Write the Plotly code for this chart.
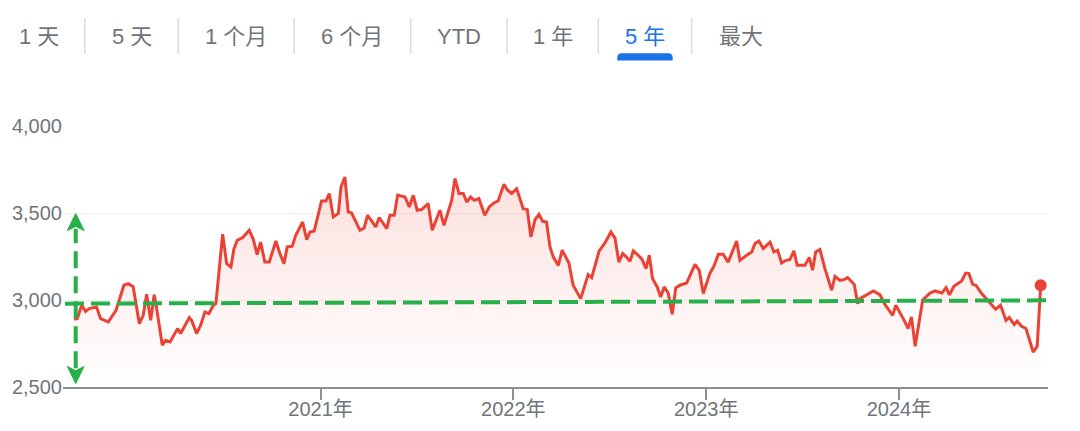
import plotly.graph_objects as go

# ---- data ----
years = [
    2019.721, 2019.738, 2019.761, 2019.781, 2019.800, 2019.838, 2019.859, 2019.899, 2019.939, 2019.980,
    2020.002, 2020.028, 2020.060, 2020.080, 2020.098, 2020.119, 2020.137, 2020.146, 2020.179, 2020.196,
    2020.219, 2020.259, 2020.274, 2020.319, 2020.331, 2020.357, 2020.378, 2020.400, 2020.421, 2020.443,
    2020.457, 2020.473, 2020.492, 2020.513, 2020.535, 2020.551, 2020.568, 2020.596, 2020.630, 2020.651,
    2020.671, 2020.689, 2020.711, 2020.734, 2020.768, 2020.789, 2020.810, 2020.827, 2020.853, 2020.871,
    2020.907, 2020.928, 2020.945, 2020.967, 2021.005, 2021.028, 2021.045, 2021.066, 2021.092, 2021.106,
    2021.126, 2021.143, 2021.161, 2021.204, 2021.226, 2021.244, 2021.286, 2021.304, 2021.343, 2021.360,
    2021.382, 2021.400, 2021.438, 2021.460, 2021.481, 2021.501, 2021.524, 2021.558, 2021.579, 2021.619,
    2021.640, 2021.680, 2021.697, 2021.718, 2021.740, 2021.758, 2021.778, 2021.797, 2021.821, 2021.852,
    2021.875, 2021.899, 2021.921, 2021.951, 2021.970, 2021.991, 2022.017, 2022.051, 2022.072, 2022.091,
    2022.112, 2022.133, 2022.152, 2022.172, 2022.190, 2022.207, 2022.233, 2022.253, 2022.288, 2022.310,
    2022.349, 2022.388, 2022.406, 2022.445, 2022.475, 2022.506, 2022.527, 2022.547, 2022.567, 2022.587,
    2022.605, 2022.622, 2022.648, 2022.668, 2022.688, 2022.705, 2022.722, 2022.746, 2022.764, 2022.782,
    2022.803, 2022.824, 2022.842, 2022.864, 2022.899, 2022.942, 2022.964, 2022.985, 2023.019, 2023.040,
    2023.063, 2023.088, 2023.114, 2023.158, 2023.175, 2023.210, 2023.236, 2023.253, 2023.274, 2023.296,
    2023.331, 2023.351, 2023.371, 2023.391, 2023.414, 2023.434, 2023.455, 2023.472, 2023.512, 2023.535,
    2023.552, 2023.568, 2023.590, 2023.616, 2023.651, 2023.668, 2023.694, 2023.715, 2023.734, 2023.768,
    2023.786, 2023.798, 2023.832, 2023.867, 2023.901, 2023.927, 2023.967, 2023.984, 2024.022, 2024.048,
    2024.065, 2024.084, 2024.123, 2024.161, 2024.187, 2024.223, 2024.244, 2024.262, 2024.285, 2024.325,
    2024.346, 2024.363, 2024.382, 2024.399, 2024.429, 2024.451, 2024.475, 2024.501, 2024.527, 2024.555,
    2024.572, 2024.598, 2024.613, 2024.636, 2024.659, 2024.676, 2024.696, 2024.717, 2024.735,
]
close = [
    2890, 2893, 2970, 2935, 2951, 2960, 2893, 2874, 2941, 3085,
    3094, 3076, 2864, 2912, 3033, 2883, 3030, 2979, 2740, 2768,
    2759, 2836, 2807, 2899, 2883, 2807, 2855, 2931, 2922, 2970,
    2979, 3152, 3378, 3209, 3190, 3295, 3343, 3359, 3401, 3349,
    3261, 3333, 3218, 3218, 3339, 3267, 3209, 3305, 3309, 3372,
    3448, 3347, 3391, 3397, 3569, 3569, 3612, 3477, 3497, 3649,
    3707, 3506, 3500, 3401, 3414, 3487, 3420, 3474, 3410, 3487,
    3487, 3603, 3592, 3535, 3602, 3516, 3520, 3554, 3401, 3516,
    3429, 3573, 3698, 3612, 3612, 3563, 3592, 3573, 3583, 3487,
    3535, 3558, 3569, 3665, 3631, 3612, 3640, 3525, 3520, 3362,
    3462, 3493, 3452, 3448, 3305, 3247, 3199, 3286, 3213, 3085,
    3008, 3146, 3129, 3282, 3328, 3391, 3356, 3218, 3267, 3247,
    3222, 3282, 3257, 3232, 3180, 3257, 3123, 3075, 3017, 3075,
    3040, 2918, 3069, 3085, 3098, 3205, 3171, 3037, 3152, 3194,
    3263, 3263, 3218, 3339, 3228, 3257, 3276, 3324, 3339, 3295,
    3333, 3276, 3286, 3213, 3228, 3232, 3282, 3199, 3199, 3244,
    3171, 3276, 3290, 3180, 3056, 3136, 3113, 3117, 3129, 3090,
    2979, 3008, 3031, 3052, 3031, 2975, 2912, 2970, 2893, 2836,
    2903, 2734, 3000, 3040, 3052, 3040, 3071, 3030, 3079, 3109,
    3155, 3152, 3090, 3085, 3037, 3008, 2975, 2947, 2970, 2883,
    2899, 2859, 2879, 2849, 2836, 2778, 2701, 2734, 3085,
]
year_ticks = [2021, 2022, 2023, 2024]
year_labels = ["2021年", "2022年", "2023年", "2024年"]
y_ticks = [2500, 3000, 3500, 4000]
tabs = ["1 天", "5 天", "1 个月", "6 个月", "YTD", "1 年", "5 年", "最大"]
active_tab = "5 年"
# hand-drawn guide: level line from ~2979 to ~2998, arrow spanning 2520..3497
guide_level = [2979, 2998]
arrow_span = [2520, 3497]

# ---- layout geometry (screen pixels; the page body adds an 8px offset) ----
OFF = 8
SCREEN_W, SCREEN_H = 1080, 431
W, H = SCREEN_W - OFF, SCREEN_H - OFF
PLOT_L, PLOT_R, PLOT_T, PLOT_B = 63, 1048, 126, 387   # plot box on screen
ML, MT = PLOT_L - OFF, PLOT_T - OFF
MR, MB = W - (PLOT_R - OFF), H - (PLOT_B - OFF)
PW, PH = PLOT_R - PLOT_L, PLOT_B - PLOT_T
X_RANGE = [2019.664, 2024.773]
Y_RANGE = [2500, 4000]


def px(xs):
    return (xs - PLOT_L) / PW


def py(ys):
    return (PLOT_B - ys) / PH


FONT = "Liberation Sans, Arial, Noto Sans CJK SC, sans-serif"
RED = "#ea4335"
GREEN = "#27b04a"
GRAY = "#70757a"

fig = go.Figure()
fig.add_trace(go.Scatter(
    x=years, y=close, mode="lines",
    line=dict(color=RED, width=3),
    fill="tozeroy",
    fillgradient=dict(type="vertical", start=2500, stop=3707,
                      colorscale=[[0, "rgba(234,67,53,0.0)"], [1, "rgba(234,67,53,0.16)"]]),
    hoverinfo="skip", showlegend=False,
))
fig.add_trace(go.Scatter(
    x=[years[-1]], y=[close[-1]], mode="markers",
    marker=dict(color=RED, size=12), hoverinfo="skip", showlegend=False,
))

shapes = []
# tab separators
for sx in [84.8, 178.2, 294.1, 410.7, 507.0, 598.3, 691.7]:
    shapes.append(dict(type="line", xref="paper", yref="paper",
                       x0=px(sx), x1=px(sx), y0=py(18), y1=py(54),
                       line=dict(color="#dadce0", width=1.5)))
# active tab indicator (rounded top)
x0, x1, yt, yb, r = 617.3, 672.7, 53.3, 60.5, 4.5
path = (f"M {px(x0)},{py(yb)} L {px(x0)},{py(yt + r)} Q {px(x0)},{py(yt)} {px(x0 + r)},{py(yt)} "
        f"L {px(x1 - r)},{py(yt)} Q {px(x1)},{py(yt)} {px(x1)},{py(yt + r)} L {px(x1)},{py(yb)} Z")
shapes.append(dict(type="path", xref="paper", yref="paper", path=path,
                   fillcolor="#1a73e8", line=dict(width=0)))
# green dashed level line
shapes.append(dict(type="line", xref="paper", yref="y",
                   x0=px(65), x1=px(1052), y0=guide_level[0], y1=guide_level[1],
                   line=dict(color=GREEN, width=4, dash="19px,7px")))
# green dashed vertical arrow
ax = px(75.7)
hw = 8.4 / PW
head = 98
notch = 24
shapes.append(dict(type="line", xref="paper", yref="y",
                   x0=ax, x1=ax, y0=arrow_span[0] + head - 10, y1=arrow_span[1] - head + 10,
                   line=dict(color=GREEN, width=4, dash="17px,8px")))
top = arrow_span[1]
bot = arrow_span[0]
shapes.append(dict(type="path", xref="paper", yref="y",
                   path=f"M {ax},{top} L {ax - hw},{top - head} L {ax},{top - head + notch} L {ax + hw},{top - head} Z",
                   fillcolor=GREEN, line=dict(color=GREEN, width=1)))
shapes.append(dict(type="path", xref="paper", yref="y",
                   path=f"M {ax},{bot} L {ax - hw},{bot + head} L {ax},{bot + head - notch} L {ax + hw},{bot + head} Z",
                   fillcolor=GREEN, line=dict(color=GREEN, width=1)))

annotations = []
tab_centers = [38.5, 131.8, 236.2, 351.7, 458.8, 552.5, 644.5, 741.2]
for t, cx in zip(tabs, tab_centers):
    annotations.append(dict(
        text=t, x=px(cx), y=py(36), xref="paper", yref="paper",
        xanchor="center", yanchor="middle", showarrow=False,
        font=dict(family=FONT, size=22, color="#1a73e8" if t == active_tab else GRAY),
    ))

fig.update_layout(
    width=W, height=H,
    margin=dict(l=ML, r=MR, t=MT, b=MB, autoexpand=False),
    paper_bgcolor="white", plot_bgcolor="white",
    showlegend=False,
    shapes=shapes,
    annotations=annotations,
    xaxis=dict(
        range=X_RANGE, tickvals=year_ticks, ticktext=year_labels,
        showgrid=False, zeroline=False, automargin=False,
        showline=True, linecolor="#8a8f94", linewidth=1.5,
        ticks="outside", ticklen=11, tickwidth=1.5, tickcolor="#8a8f94",
        ticklabelstandoff=-8,
        tickfont=dict(family=FONT, size=20, color=GRAY),
        fixedrange=True,
    ),
    yaxis=dict(
        range=Y_RANGE, tickvals=y_ticks, tickformat=",d",
        showgrid=True, gridcolor="#efefef", gridwidth=1,
        zeroline=False, showline=False, ticks="", automargin=False,
        tickfont=dict(family=FONT, size=20, color=GRAY),
        fixedrange=True,
    ),
)

fig.write_html("out.html")
